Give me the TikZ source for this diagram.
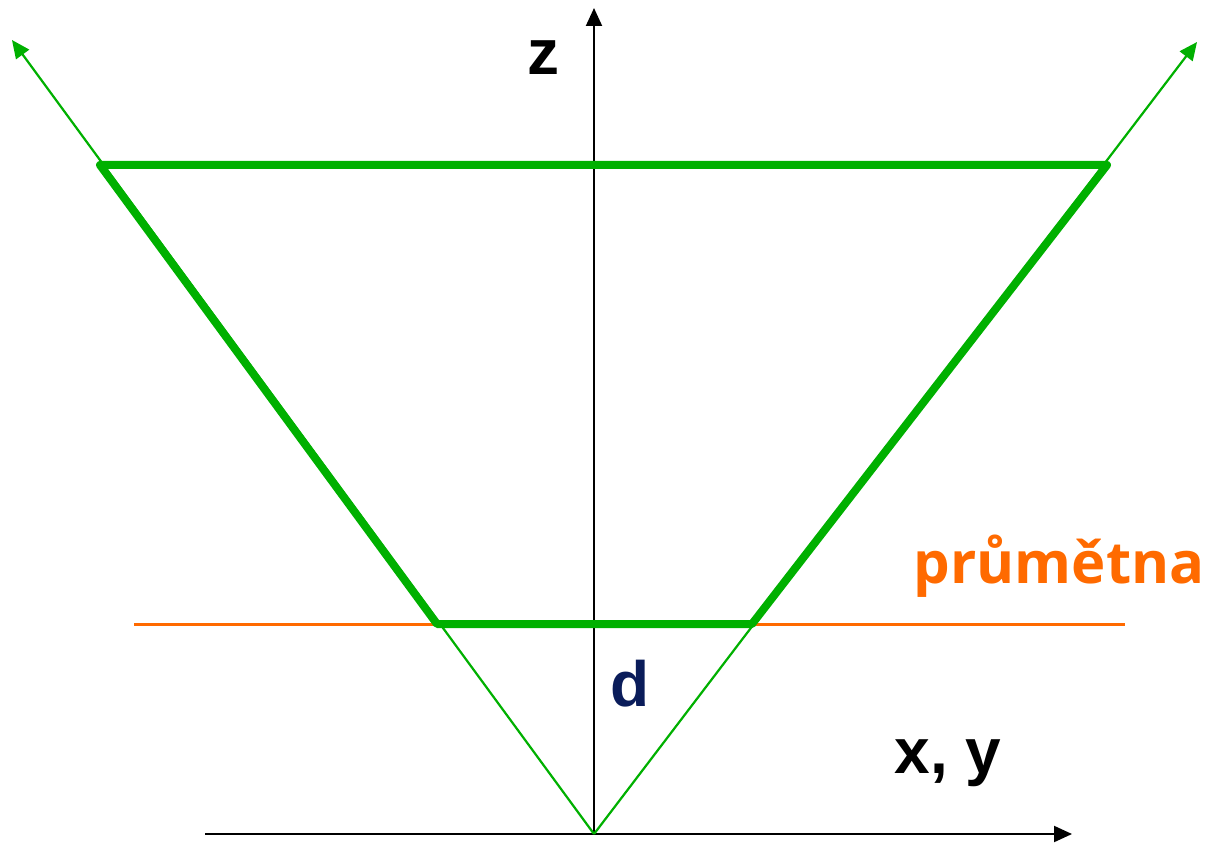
\documentclass[tikz,border=0pt]{standalone}
\usepackage{fontspec}
\setmainfont{Liberation Sans}
\newfontfamily\prumfont{Open Sans}
\usetikzlibrary{arrows.meta}
\definecolor{zelena}{HTML}{00B000}
\definecolor{oranzova}{HTML}{FF6A00}
\definecolor{tmmodra}{HTML}{0A1C5A}

\begin{document}
\begin{tikzpicture}[x=0.5pt,y=-0.5pt,
  osa/.style={-{Triangle[length=9pt,width=8pt]}, line width=1pt, black},
  paprsek/.style={-{Triangle[length=9pt,width=8pt]}, line width=1.1pt, zelena},
  hrana/.style={line width=4pt, zelena, line join=round, line cap=round},
  popis/.style={font=\bfseries\fontsize{32}{36}\selectfont, anchor=base, inner sep=0pt}]
\useasboundingbox (0,0) rectangle (1208,844);
\coordinate (O) at (594,834);
\coordinate (zk) at (594,8);
\coordinate (xz) at (205,834);
\coordinate (xk) at (1072,834);
\coordinate (pl) at (12,40);
\coordinate (pp) at (1197,42);
\coordinate (hl) at (100,165);
\coordinate (hp) at (1107,165);
\coordinate (dl) at (437,624);
\coordinate (dp) at (752,624);
\coordinate (rl) at (134,624);
\coordinate (rp) at (1125,624);
% prumetna
\draw[oranzova, line width=1.5pt] (rl) -- (rp);
% osy
\draw[osa] (O) -- (zk);
\draw[osa] (xz) -- (xk);
% paprsky a komoly kuzel
\draw[paprsek] (O) -- (pl);
\draw[paprsek] (O) -- (pp);
\draw[hrana] (dl) -- (hl) -- (hp) -- (dp) -- cycle;
\node[popis] (z) at (543,75) {z};
\node[popis, tmmodra] (d) at (630,706) {d};
\node[popis] (xy) at (948,773) {x, y};
\node[popis, oranzova, font=\prumfont\bfseries\fontsize{29}{34}\selectfont] (pr) at (1059,583) {průmětna};
\end{tikzpicture}
\end{document}
